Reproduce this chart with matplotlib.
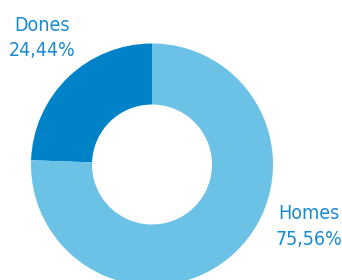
import matplotlib
matplotlib.use("Agg")
import matplotlib.pyplot as plt

labels = ["Dones", "Homes"]
values = [24.44, 75.56]
value_text = ["24,44%", "75,56%"]
colors = ["#0082c9", "#6cc1e6"]
text_color = "#1a8ad0"

plt.rcParams['font.family'] = ['DejaVu Sans']
plt.rcParams['font.stretch'] = 'condensed'

fig = plt.figure(figsize=(3.42, 2.80), dpi=100)
ax = fig.add_axes([0, 0, 1, 1])
ax.pie(values, colors=colors, startangle=90, counterclock=True,
       center=(152, 115.5), radius=121,
       wedgeprops=dict(width=61, edgecolor='none'))
ax.set_xlim(0, 342)
ax.set_ylim(0, 280)
ax.set_aspect('equal')
ax.axis('off')

# labels, two lines each, centred
ax.text(42, 280 - 31, labels[0], ha='center', va='baseline', fontsize=14, color=text_color)
ax.text(42, 280 - 56, value_text[0], ha='center', va='baseline', fontsize=14, color=text_color)
ax.text(309, 280 - 219, labels[1], ha='center', va='baseline', fontsize=14, color=text_color)
ax.text(309, 280 - 245, value_text[1], ha='center', va='baseline', fontsize=14, color=text_color)

fig.savefig("out.png", dpi=100)
